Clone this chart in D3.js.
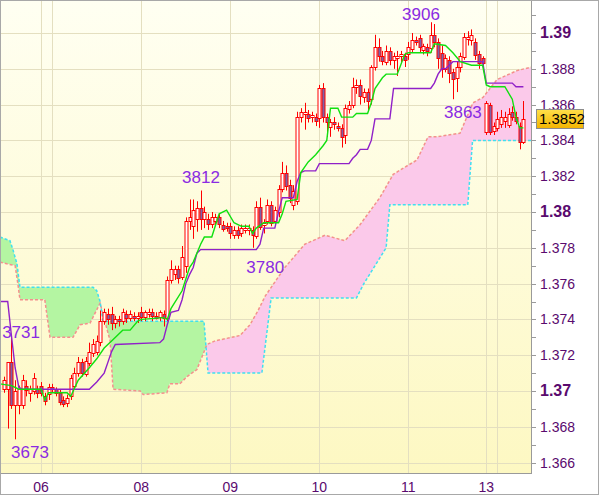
<!DOCTYPE html>
<html><head><meta charset="utf-8">
<script src="https://cdn.jsdelivr.net/npm/d3@7"></script>
<style>html,body{margin:0;padding:0;background:#fff;}svg{display:block;font-family:Arial,"Liberation Sans",sans-serif;}</style>
</head><body>
<svg id="c" width="600" height="496"></svg>
<script>
// ---------- DATA ----------
const opens  = [1.3701,1.3701,1.3716,1.3692,1.3692,1.3692,1.3703,1.3699,1.3700,1.3701,1.3703,1.3697,1.3698,1.3702,1.3701,1.3699,1.3695,1.3693,1.3697,1.3703,1.3710,1.3716,1.3710,1.3716,1.3721,1.3722,1.3727,1.3739,1.3743,1.3743,1.3738,1.3740,1.3739,1.3743,1.3741,1.3742,1.3741,1.3744,1.3741,1.3743,1.3744,1.3742,1.3741,1.3743,1.3741,1.3762,1.3765,1.3768,1.3764,1.3770,1.3795,1.3792,1.3796,1.3802,1.3796,1.3796,1.3793,1.3795,1.3797,1.3793,1.3792,1.3792,1.3787,1.3790,1.3788,1.3790,1.3790,1.3790,1.3787,1.3803,1.3793,1.3795,1.3804,1.3795,1.3800,1.3813,1.3822,1.3815,1.3804,1.3806,1.3853,1.3855,1.3855,1.3853,1.3853,1.3852,1.3869,1.3853,1.3847,1.3850,1.3848,1.3847,1.3843,1.3858,1.3860,1.3870,1.3871,1.3864,1.3867,1.3863,1.3881,1.3892,1.3887,1.3884,1.3890,1.3885,1.3886,1.3887,1.3887,1.3888,1.3891,1.3896,1.3897,1.3891,1.3892,1.3892,1.3899,1.3895,1.3889,1.3880,1.3885,1.3878,1.3875,1.3881,1.3887,1.3897,1.3896,1.3895,1.3888,1.3886,1.3845,1.3860,1.3845,1.3847,1.3849,1.3851,1.3849,1.3856,1.3853,1.3848,1.3839];
const highs  = [1.3708,1.3716,1.3731,1.3706,1.3703,1.3709,1.3706,1.3703,1.3710,1.3703,1.3705,1.3699,1.3704,1.3704,1.3702,1.3701,1.3697,1.3698,1.3709,1.3713,1.3719,1.3718,1.3719,1.3727,1.3729,1.3731,1.3745,1.3746,1.3746,1.3747,1.3742,1.3742,1.3746,1.3745,1.3745,1.3744,1.3744,1.3747,1.3745,1.3746,1.3746,1.3744,1.3745,1.3745,1.3764,1.3773,1.3770,1.3770,1.3781,1.3797,1.3807,1.3807,1.3806,1.3812,1.3803,1.3799,1.3800,1.3799,1.3799,1.3795,1.3794,1.3794,1.3792,1.3792,1.3793,1.3793,1.3793,1.3792,1.3806,1.3808,1.3796,1.3807,1.3806,1.3803,1.3815,1.3828,1.3826,1.3818,1.3815,1.3856,1.3858,1.3861,1.3857,1.3856,1.3855,1.3871,1.3872,1.3855,1.3852,1.3853,1.3850,1.3849,1.3860,1.3862,1.3875,1.3874,1.3874,1.3869,1.3869,1.3882,1.3899,1.3897,1.3890,1.3893,1.3892,1.3889,1.3890,1.3890,1.3889,1.3895,1.3900,1.3898,1.3899,1.3894,1.3894,1.3906,1.3905,1.3897,1.3893,1.3888,1.3887,1.3880,1.3884,1.3889,1.3900,1.3901,1.3902,1.3897,1.3890,1.3887,1.3862,1.3861,1.3850,1.3856,1.3857,1.3856,1.3858,1.3859,1.3856,1.3850,1.3862];
const lows   = [1.3699,1.3679,1.3690,1.3673,1.3687,1.3690,1.3697,1.3694,1.3698,1.3696,1.3697,1.3692,1.3695,1.3699,1.3697,1.3692,1.3691,1.3691,1.3695,1.3701,1.3708,1.3708,1.3708,1.3714,1.3719,1.3720,1.3725,1.3737,1.3737,1.3734,1.3735,1.3736,1.3737,1.3738,1.3739,1.3739,1.3738,1.3739,1.3739,1.3741,1.3739,1.3740,1.3739,1.3736,1.3739,1.3760,1.3762,1.3760,1.3762,1.3766,1.3790,1.3785,1.3789,1.3790,1.3791,1.3790,1.3791,1.3793,1.3791,1.3789,1.3789,1.3785,1.3785,1.3785,1.3786,1.3788,1.3787,1.3780,1.3785,1.3790,1.3788,1.3793,1.3792,1.3793,1.3797,1.3811,1.3812,1.3805,1.3801,1.3804,1.3850,1.3846,1.3850,1.3850,1.3848,1.3847,1.3850,1.3842,1.3842,1.3846,1.3845,1.3836,1.3838,1.3855,1.3858,1.3866,1.3860,1.3861,1.3857,1.3860,1.3879,1.3884,1.3882,1.3882,1.3882,1.3880,1.3876,1.3883,1.3881,1.3885,1.3889,1.3893,1.3889,1.3888,1.3887,1.3889,1.3892,1.3880,1.3875,1.3878,1.3872,1.3863,1.3867,1.3878,1.3885,1.3893,1.3893,1.3885,1.3880,1.3880,1.3843,1.3843,1.3843,1.3845,1.3847,1.3847,1.3847,1.3851,1.3849,1.3835,1.3838];
const closes = [1.3706,1.3716,1.3692,1.3700,1.3701,1.3706,1.3701,1.3701,1.3707,1.3699,1.3699,1.3694,1.3702,1.3701,1.3699,1.3694,1.3693,1.3696,1.3707,1.3710,1.3716,1.3710,1.3717,1.3722,1.3726,1.3728,1.3739,1.3744,1.3740,1.3738,1.3740,1.3739,1.3744,1.3741,1.3743,1.3741,1.3742,1.3741,1.3744,1.3744,1.3742,1.3741,1.3744,1.3741,1.3762,1.3768,1.3768,1.3763,1.3775,1.3795,1.3797,1.3801,1.3802,1.3796,1.3800,1.3793,1.3797,1.3797,1.3793,1.3791,1.3791,1.3788,1.3790,1.3787,1.3791,1.3791,1.3791,1.3787,1.3803,1.3792,1.3794,1.3804,1.3794,1.3801,1.3813,1.3822,1.3815,1.3808,1.3812,1.3853,1.3856,1.3856,1.3853,1.3854,1.3851,1.3869,1.3853,1.3850,1.3850,1.3849,1.3847,1.3842,1.3858,1.3860,1.3870,1.3871,1.3865,1.3867,1.3862,1.3881,1.3892,1.3887,1.3884,1.3890,1.3885,1.3887,1.3887,1.3888,1.3885,1.3892,1.3896,1.3895,1.3892,1.3893,1.3890,1.3899,1.3895,1.3886,1.3880,1.3886,1.3878,1.3874,1.3881,1.3887,1.3898,1.3898,1.3899,1.3888,1.3883,1.3883,1.3861,1.3845,1.3848,1.3852,1.3853,1.3853,1.3855,1.3853,1.3851,1.3839,1.3852];

// Tenkan-sen (green) [candle index, price]
const tenkan = [[-1.1,1.3704],[2,1.3703],[4,1.3701],[10,1.3701],[11,1.3695],[12,1.3699],[17,1.3699],[18,1.3697],[20,1.3706],[23,1.3713],[25,1.3718],[27,1.3724],[29,1.3728],[32,1.3734],[34,1.3734],[36,1.3739],[37,1.3740],[43,1.3741],[44,1.3740],[45,1.3746],[48,1.3756],[50,1.3769],[51,1.3772],[53,1.3782],[54,1.3786],[56,1.3786],[58,1.3799],[60,1.3801],[62,1.3794],[64,1.3792],[66,1.3792],[67,1.3788],[68,1.3791],[70,1.3794],[74,1.3794],[75,1.3799],[76,1.3806],[79,1.3807],[80,1.3822],[82,1.3828],[84,1.3832],[86,1.3837],[87,1.3840],[88,1.3858],[90,1.3858],[91,1.3853],[94,1.3853],[95,1.3855],[98,1.3855],[99,1.3861],[100,1.3869],[102,1.3875],[103,1.3877],[106,1.3877],[108,1.3888],[109,1.3889],[115,1.3889],[116,1.3894],[119,1.3893],[121,1.3889],[123,1.3884],[126,1.3882],[129,1.3882],[130,1.3871],[131,1.3870],[135,1.3870],[137,1.3863],[138,1.3853],[139,1.3847],[140,1.3847]];
// Kijun-sen (purple)
const kijun = [[-1.1,1.3750],[1,1.3750],[2,1.3731],[3,1.3713],[4,1.3702],[5,1.3701],[23,1.3701],[25,1.3705],[27,1.3710],[28,1.3716],[29,1.3722],[30,1.3726],[42,1.3727],[43,1.3729],[44,1.3737],[45,1.3744],[47,1.3745],[48,1.3751],[49,1.3760],[50,1.3765],[51,1.3769],[52,1.3777],[53,1.3779],[68,1.3779],[69,1.3782],[70,1.3791],[73,1.3791],[74,1.3800],[75,1.3808],[78,1.3808],[79,1.3817],[80,1.3822],[81,1.3823],[84,1.3823],[85,1.3827],[93,1.3827],[94,1.3830],[95,1.3832],[96,1.3835],[98,1.3835],[99,1.3840],[100,1.3852],[104,1.3852],[105,1.3869],[115,1.3869],[116,1.3872],[117,1.3877],[118,1.3880],[119,1.3880],[120,1.3882],[121,1.3884],[129,1.3884],[130,1.3872],[137,1.3872],[138,1.3870],[140,1.3870]];
// Senkou span A (cyan border) and B (salmon border)
const spanA = [[-1.1,1.3786],[1.6,1.3784],[2.4,1.3779],[3.5,1.3771],[4.3,1.3758],[24,1.3758],[25,1.3756],[25.9,1.3750],[26.7,1.3739],[53.9,1.3739],[55,1.3710],[69.5,1.3710],[71,1.3735],[72,1.3752],[95,1.3752],[97,1.3760],[103,1.3780],[104,1.3804],[125,1.3804],[126.3,1.3840],[142.2,1.3840]];
const spanB = [[-1.1,1.3772],[3,1.3770],[3.8,1.3759],[4.3,1.3751],[11,1.3751],[12.4,1.3730],[18.6,1.3730],[20.5,1.3737],[23.2,1.3738],[25.9,1.3749],[28.6,1.3728],[29.4,1.3701],[36.7,1.3700],[37.5,1.3698],[43.9,1.3699],[44.7,1.3704],[47.4,1.3704],[49.3,1.3708],[52,1.3712],[54.7,1.3726],[56.9,1.3728],[63.6,1.3731],[66.3,1.3737],[68.5,1.3745],[70.4,1.3753],[75.7,1.3769],[81.1,1.3782],[86.5,1.3787],[91.9,1.3784],[96,1.3793],[101.3,1.3808],[104.9,1.3821],[108,1.3825],[111.3,1.3829],[114.3,1.3842],[116.7,1.3842],[122.9,1.3844],[126.4,1.3861],[129.1,1.3864],[132.9,1.3874],[138.3,1.3879],[142.2,1.3881]];

// x axis: day boundaries (candle index) and their labels
const dayIndex  = [10, 13, 37, 61, 85, 109, 130, 133];
const dayLabels = ["06", "", "08", "09", "10", "11", "13", ""];
// y axis tick values
const yMinorTicks = d3.range(13660, 13911, 10).map(v => v / 10000);
const yLabelTicks = d3.range(13660, 13901, 20).map(v => v / 10000);
// high / low annotations: text, anchor in data space (candle index, price)
const noteText  = ["3906", "3863", "3812", "3780", "3731", "3673"];
const noteIndex = [112.4, 123.7, 53.1, 70.4, 4.6, 7.0];
const notePrice = [1.3907, 1.38525, 1.38162, 1.37659, 1.37296, 1.36626];
const lastPrice = closes[closes.length - 1];

// ---------- LAYOUT ----------
const W = 600, H = 496, PL = 0, PR = 531, PT = 0, PB = 473;
const x = d3.scaleLinear().domain([0, 140]).range([4, 523.4]);
const y = d3.scaleLinear().domain([1.366, 1.39]).range([462.6, 33]);
const svg = d3.select("#c");
const defs = svg.append("defs");

const bg = defs.append("linearGradient").attr("id", "bg").attr("x1", 0).attr("y1", 0).attr("x2", 0).attr("y2", 1);
bg.append("stop").attr("offset", "0%").attr("stop-color", "#fffff2");
bg.append("stop").attr("offset", "100%").attr("stop-color", "#fdf8c2");
const gold = defs.append("linearGradient").attr("id", "gold").attr("x1", 0).attr("y1", 0).attr("x2", 0).attr("y2", 1);
gold.append("stop").attr("offset", "0%").attr("stop-color", "#ffe04a");
gold.append("stop").attr("offset", "100%").attr("stop-color", "#f3b400");

defs.append("clipPath").attr("id", "plot").append("rect").attr("x", PL).attr("y", PT).attr("width", PR - PL).attr("height", PB - PT);

svg.append("rect").attr("x", 0).attr("y", 0).attr("width", W).attr("height", H).attr("fill", "#fff");
svg.append("rect").attr("x", PL).attr("y", PT).attr("width", PR - PL).attr("height", PB - PT).attr("fill", "url(#bg)");

const plot = svg.append("g").attr("clip-path", "url(#plot)");

// grid
plot.selectAll(".hg").data(yLabelTicks).join("line")
  .attr("x1", PL).attr("x2", PR)
  .attr("y1", d => Math.round(y(d)) + 0.5).attr("y2", d => Math.round(y(d)) + 0.5)
  .attr("stroke", "#e4dfc0").attr("stroke-width", 1);
plot.selectAll(".vg").data(dayIndex).join("line")
  .attr("x1", d => Math.round(x(d)) + 0.5).attr("x2", d => Math.round(x(d)) + 0.5)
  .attr("y1", PT).attr("y2", PB)
  .attr("stroke", "#e4dfc0").attr("stroke-width", 1);

// cloud
const px = pts => pts.map(d => [x(d[0]), y(d[1])]);
const pA = px(spanA), pB = px(spanB);
const between = d3.line()(pA.concat(pB.slice().reverse())) + "Z";
const above = d3.line()(pB.concat([[pB[pB.length - 1][0], -10], [pB[0][0], -10]])) + "Z";
const below = d3.line()(pB.concat([[pB[pB.length - 1][0], 600], [pB[0][0], 600]])) + "Z";
defs.append("clipPath").attr("id", "abv").append("path").attr("d", above);
defs.append("clipPath").attr("id", "blw").append("path").attr("d", below);
plot.append("g").attr("clip-path", "url(#abv)").append("path").attr("d", between).attr("fill", "#b4f5a2");
plot.append("g").attr("clip-path", "url(#blw)").append("path").attr("d", between).attr("fill", "#fbc9ea");

const lg = d3.line().x(d => x(d[0])).y(d => y(d[1]));
plot.append("path").attr("d", lg(spanB)).attr("fill", "none").attr("stroke", "#f4908c").attr("stroke-width", 1.5).attr("stroke-dasharray", "3,2");
plot.append("path").attr("d", lg(spanA)).attr("fill", "none").attr("stroke", "#3fe0f0").attr("stroke-width", 1.5).attr("stroke-dasharray", "3,2");

// candles
const idx = d3.range(opens.length);
const cg = plot.append("g");
cg.selectAll(".w").data(idx).join("line")
  .attr("x1", i => Math.round(x(i)) + 0.5).attr("x2", i => Math.round(x(i)) + 0.5)
  .attr("y1", i => y(highs[i])).attr("y2", i => y(lows[i]))
  .attr("stroke", "#ff0000").attr("stroke-width", 1);
cg.selectAll(".b").data(idx).join("rect")
  .attr("x", i => Math.round(x(i)) - 1)
  .attr("width", 3)
  .attr("y", i => Math.round(y(Math.max(opens[i], closes[i]))) + 0.5)
  .attr("height", i => Math.max(1, Math.round(y(Math.min(opens[i], closes[i])) - y(Math.max(opens[i], closes[i])))))
  .attr("fill", i => closes[i] >= opens[i] ? "#ffffff" : "#7c62a8")
  .attr("stroke", "#ff0000").attr("stroke-width", 1);

// indicator lines
plot.append("path").attr("d", lg(kijun)).attr("fill", "none").attr("stroke", "#9020c8").attr("stroke-width", 1.4);
plot.append("path").attr("d", lg(tenkan)).attr("fill", "none").attr("stroke", "#10e010").attr("stroke-width", 1.4);

// annotations
svg.selectAll(".note").data(noteText).join("text")
  .attr("x", (d, k) => x(noteIndex[k])).attr("y", (d, k) => y(notePrice[k]))
  .attr("text-anchor", "middle").attr("font-size", 17).attr("fill", "#8a2be2")
  .text(d => d);

// axes frame
svg.append("line").attr("x1", PR + 0.5).attr("x2", PR + 0.5).attr("y1", 0).attr("y2", PB + 1).attr("stroke", "#9a9a9a");
svg.append("line").attr("x1", 0).attr("x2", PR + 1).attr("y1", PB + 0.5).attr("y2", PB + 0.5).attr("stroke", "#9a9a9a");
svg.append("rect").attr("x", 0.5).attr("y", 0.5).attr("width", W - 2).attr("height", H - 2).attr("fill", "none").attr("stroke", "#a8a8a8");

// right axis ticks and labels
svg.selectAll(".yt").data(yMinorTicks).join("line")
  .attr("x1", PR + 1).attr("x2", PR + 5)
  .attr("y1", d => Math.round(y(d)) + 0.5).attr("y2", d => Math.round(y(d)) + 0.5)
  .attr("stroke", "#9a9a9a");
const isMajor = d => Math.abs(Math.round(d * 100) - d * 100) < 1e-6;
svg.selectAll(".yl").data(yLabelTicks).join("text")
  .attr("x", PR + 9).attr("y", d => y(d) + 5)
  .attr("font-size", d => isMajor(d) ? 16 : 14)
  .attr("font-weight", d => isMajor(d) ? "bold" : "normal")
  .attr("fill", "#5a0a6e")
  .text(d => isMajor(d) ? d3.format(".2f")(d) : d3.format(".3f")(d));

// last price box
const lp = y(lastPrice);
svg.append("rect").attr("x", 536.5).attr("y", Math.round(lp) - 9.5).attr("width", 47).attr("height", 19)
  .attr("fill", "url(#gold)").attr("stroke", "#8c8c8c");
svg.append("text").attr("x", 539).attr("y", lp + 5.5).attr("font-size", 15).attr("fill", "#000").text(d3.format(".4f")(lastPrice));

// bottom axis labels
svg.selectAll(".xl").data(dayIndex).join("text")
  .attr("x", d => x(d)).attr("y", 492)
  .attr("text-anchor", "middle").attr("font-size", 14).attr("fill", "#5a0a6e")
  .text((d, k) => dayLabels[k]);
</script>
</body></html>
